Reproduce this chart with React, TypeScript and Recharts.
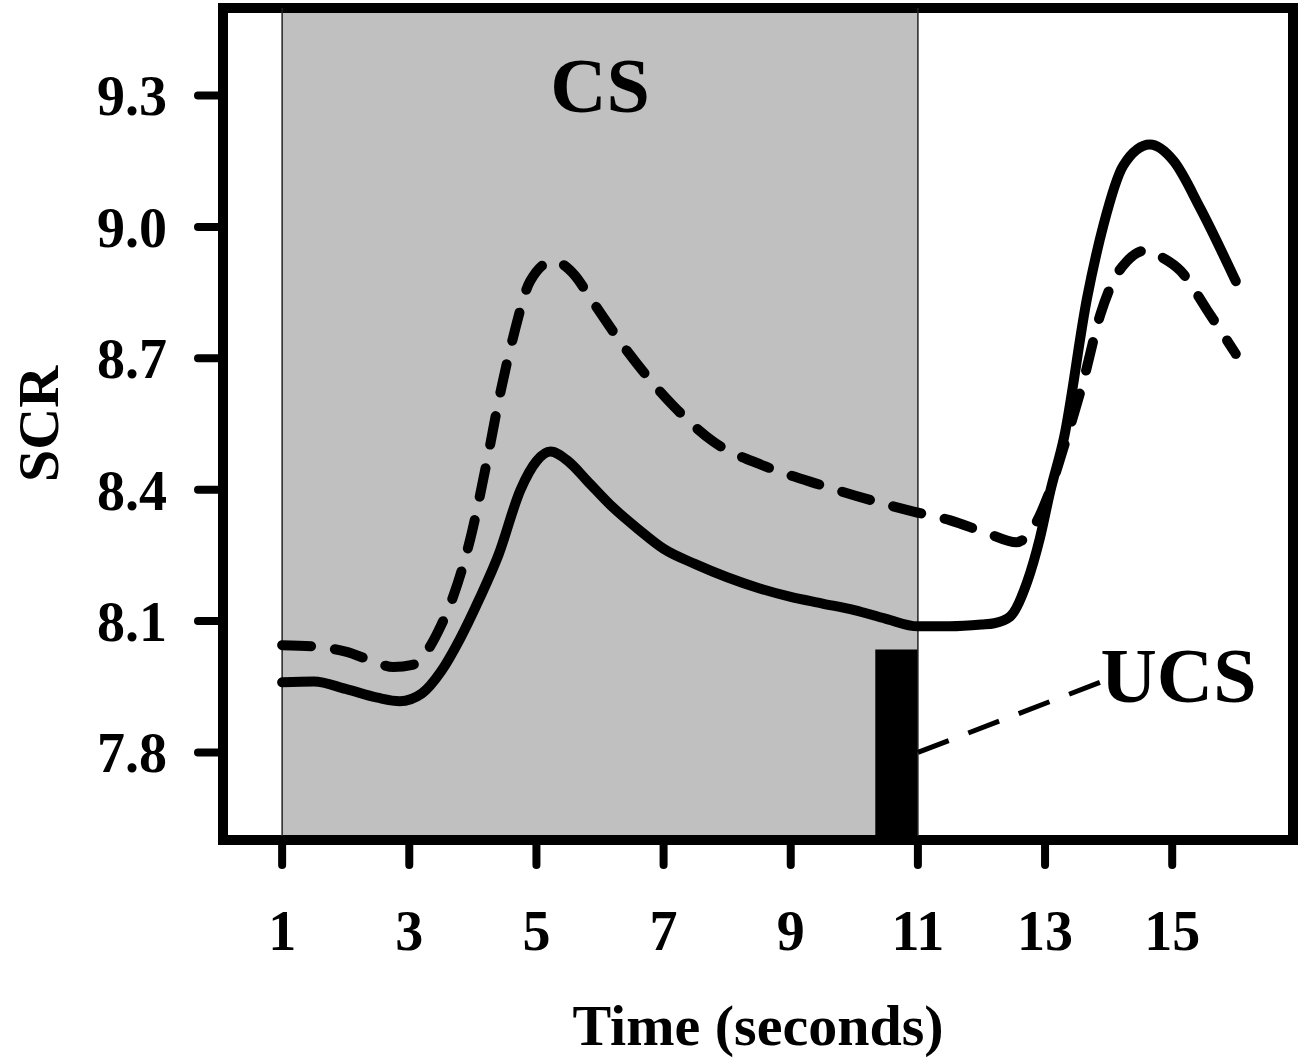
import {
  ComposedChart,
  Line,
  XAxis,
  YAxis,
  ReferenceArea,
  ReferenceLine,
  ReferenceDot,
  Label,
} from "recharts";

// Solid curve
const solidTime = [
  1, 1.5, 2, 2.5, 2.85, 3.2, 3.5, 3.8, 4.1, 4.4, 4.75, 5.0, 5.22, 5.5, 5.8,
  6.2, 6.6, 7.0, 7.5, 8.0, 8.5, 9.0, 9.5, 10.0, 10.5, 11.0, 11.5, 12.0, 12.2,
  12.45, 12.72, 12.92, 13.08, 13.3, 13.66, 13.92, 14.23, 14.65, 15.02, 15.44,
  16.0,
];
const solidScr = [
  7.96, 7.962, 7.945, 7.925, 7.917, 7.935, 7.985, 8.06, 8.15, 8.25, 8.4, 8.465,
  8.487, 8.465, 8.42, 8.36, 8.31, 8.265, 8.23, 8.2, 8.175, 8.155, 8.14, 8.125,
  8.105, 8.088, 8.088, 8.092, 8.095, 8.11, 8.19, 8.29, 8.395, 8.52, 8.837,
  9.005, 9.14, 9.188, 9.151, 9.043, 8.876,
];

// Dashed curve
const dashedTime = [
  1, 1.5, 2, 2.4, 2.75, 3.05, 3.3, 3.5, 3.7, 3.96, 4.22, 4.43, 4.63, 4.9, 5.26,
  5.6, 5.85, 6.43, 7.15, 7.78, 8.57, 9.51, 10.36, 10.93, 11.51, 12.1, 12.55,
  12.8, 13.03, 13.3, 13.6, 13.87, 14.07, 14.29, 14.6, 14.81, 15.13, 15.55, 16.0,
];
const dashedScr = [
  8.045, 8.042, 8.03, 8.01, 7.995, 8.0, 8.036, 8.09, 8.16, 8.288, 8.464, 8.62,
  8.746, 8.876, 8.922, 8.89, 8.837, 8.716, 8.592, 8.51, 8.455, 8.409, 8.372,
  8.35, 8.33, 8.3, 8.28, 8.31, 8.38, 8.5, 8.647, 8.8, 8.876, 8.922, 8.947,
  8.933, 8.9, 8.81, 8.71,
];

const xTicks = [1, 3, 5, 7, 9, 11, 13, 15];
const yTicks = [7.8, 8.1, 8.4, 8.7, 9.0, 9.3];

const csStart = 1;
const csEnd = 11;
const ucsStart = 10.33;
const ucsTop = 8.035;

const FONT = "'Liberation Serif', 'Times New Roman', serif";

const solidData = solidTime.map((t, i) => ({ t, scr: solidScr[i] }));
const dashedData = dashedTime.map((t, i) => ({ t, scr: dashedScr[i] }));

const tickStyle = {
  fontFamily: FONT,
  fontSize: 56,
  fontWeight: "bold",
  fill: "#000",
};

const bigText = {
  fontFamily: FONT,
  fontSize: 78,
  fontWeight: "bold",
  fill: "#000",
};

const App = () => {
  return (
    <div style={{ position: "absolute", left: 0, top: 0 }}>
      <ComposedChart
        width={1306}
        height={1062}
        margin={{ top: 8, right: 13, bottom: 0, left: 0 }}
      >
        <XAxis
          dataKey="t"
          type="number"
          domain={[0.07, 16.9]}
          ticks={xTicks}
          allowDataOverflow
          axisLine={false}
          tickSize={25}
          tickMargin={45}
          tickLine={{ stroke: "#000", strokeWidth: 8, strokeLinecap: "round" }}
          tick={tickStyle}
          height={222}
        >
          <Label
            value="Time (seconds)"
            position="insideBottom"
            offset={17}
            style={{
              fontFamily: FONT,
              fontSize: 58,
              fontWeight: "bold",
              fill: "#000",
            }}
          />
        </XAxis>
        <YAxis
          type="number"
          domain={[7.6, 9.5]}
          ticks={yTicks}
          allowDataOverflow
          axisLine={false}
          tickSize={25}
          tickMargin={31}
          tickLine={{ stroke: "#000", strokeWidth: 8, strokeLinecap: "round" }}
          tick={tickStyle}
          tickFormatter={(v: number) => v.toFixed(1)}
          width={223}
        >
          <Label
            content={(props: any) => {
              const vb = props.viewBox || { x: 0, y: 8, height: 832 };
              const cx = 58;
              const cy = vb.y + vb.height / 2;
              return (
                <text
                  x={cx}
                  y={cy}
                  transform={`rotate(-90 ${cx} ${cy})`}
                  textAnchor="middle"
                  style={{
                    fontFamily: FONT,
                    fontSize: 58,
                    fontWeight: "bold",
                    fill: "#000",
                  }}
                >
                  SCR
                </text>
              );
            }}
          />
        </YAxis>

        {/* CS period */}
        <ReferenceArea
          x1={csStart}
          x2={csEnd}
          y1={7.6}
          y2={9.5}
          fill="#c0c0c0"
          fillOpacity={1}
          stroke="none"
        >
          <Label value="CS" position="insideTop" offset={49} style={bigText} />
        </ReferenceArea>
        <ReferenceLine x={csStart} stroke="#222" strokeWidth={1.5} />
        <ReferenceLine x={csEnd} stroke="#222" strokeWidth={1.5} />

        {/* UCS bar */}
        <ReferenceArea
          x1={ucsStart}
          x2={csEnd}
          y1={7.6}
          y2={ucsTop}
          fill="#000"
          fillOpacity={1}
          stroke="none"
        />
        <ReferenceLine
          segment={[
            { x: 11, y: 7.8 },
            { x: 13.9, y: 7.962 },
          ]}
          stroke="#000"
          strokeWidth={5}
          strokeDasharray="33 21"
        />
        <ReferenceDot x={15.1} y={7.979} r={0} fill="none" stroke="none">
          <Label value="UCS" position="center" style={bigText} />
        </ReferenceDot>

        {/* frame */}
        <ReferenceArea
          y1={7.6}
          y2={9.5}
          fill="none"
          stroke="#000"
          strokeWidth={10}
        />

        <Line
          data={dashedData}
          dataKey="scr"
          type="monotone"
          stroke="#000"
          strokeWidth={10}
          strokeDasharray="29 24"
          strokeLinecap="round"
          dot={false}
          isAnimationActive={false}
        />
        <Line
          data={solidData}
          dataKey="scr"
          type="monotone"
          stroke="#000"
          strokeWidth={10}
          strokeLinecap="round"
          dot={false}
          isAnimationActive={false}
        />
      </ComposedChart>
    </div>
  );
};

export default App;
